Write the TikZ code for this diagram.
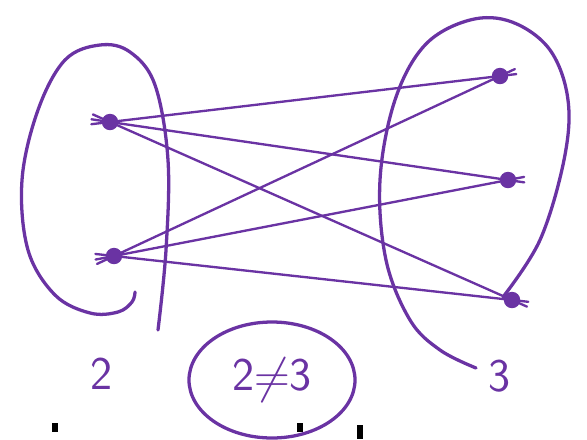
\documentclass[tikz,border=0pt]{standalone}
\usepackage{graphicx}
\usetikzlibrary{arrows.meta, positioning, shapes.geometric, calc}
\definecolor{cpurple}{HTML}{6A33A3}
\tikzset{
  every picture/.style={font=\sffamily, line width=2.8pt, line cap=round, line join=round},
  loop/.style={draw=cpurple},
  dot/.style={circle, fill=cpurple, inner sep=0pt, minimum size=14pt},
  link/.style={draw=cpurple, line width=2pt, shorten <=-16pt, shorten >=-14pt},
  count/.style={text=cpurple, font=\sffamily\fontsize{40}{42}\selectfont},
  claim/.style={ellipse, draw=cpurple, text=cpurple, inner sep=0pt, minimum width=166*0.03cm, minimum height=116*0.03cm, font=\sffamily\fontsize{40}{42}\selectfont},
}

\begin{document}
\begin{tikzpicture}[x=0.03cm, y=-0.03cm]
  \useasboundingbox (0,0) rectangle (587,439);
  % the two sets
  \draw[loop] plot[smooth, tension=0.6] coordinates {(158,330) (166,250) (168,160) (155,85) (130,52) (100,45) (65,60) (38,110) (22,180) (28,250) (55,295) (90,313) (118,312) (132,302) (135,292)};
  \draw[loop] plot[smooth, tension=0.6] coordinates {(503,297) (540,240) (564,160) (568,100) (550,50) (512,22) (470,20) (425,45) (395,100) (380,180) (386,260) (410,320) (440,350) (476,368)};
  % elements
  \node[dot] (a) at (110,122) {};
  \node[dot] (b) at (114,256) {};
  \node[dot] (r1) at (500,76) {};
  \node[dot] (r2) at (508,180) {};
  \node[dot] (r3) at (512,300) {};
  % every pairing
  \foreach \s in {a,b}
    \foreach \t in {r1,r2,r3}
      \draw[link] (\s.center) -- (\t.center);
  % sizes
  \node[count] (two) at (102,374) {2};
  \node[count] (three) at (500,376) {3};
  \node[claim] (neq) at (272,380) {2\raisebox{-0.1ex}{\scalebox{1.7}{$\neq$}}3};
  % cut-off marks below
  \fill (52,423) rectangle (58,432);
  \fill (297,423) rectangle (303,432);
  \fill (357,425) rectangle (363,439);
\end{tikzpicture}
\end{document}
